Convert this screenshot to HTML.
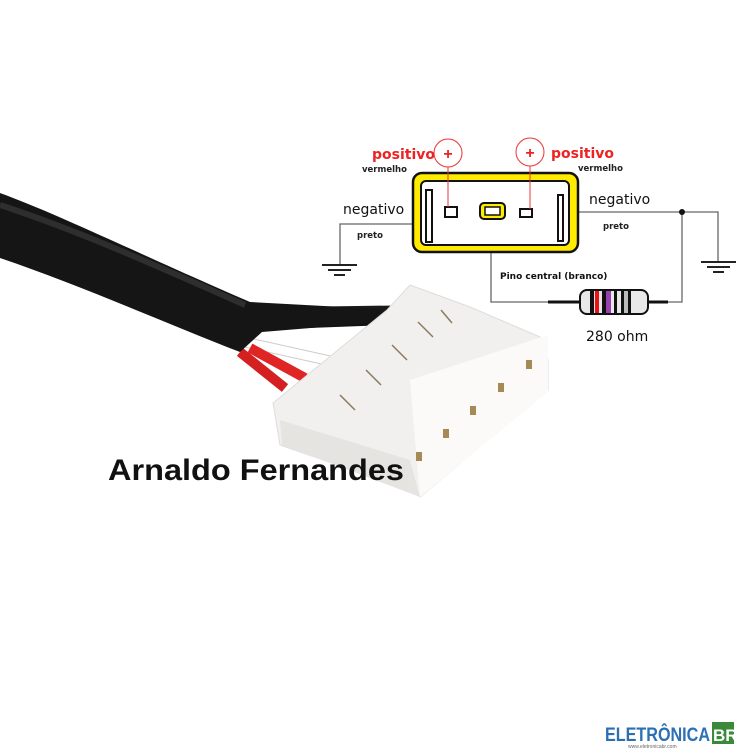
<!DOCTYPE html>
<html><head><style>
body{margin:0;background:#fff;}
svg{display:block;font-family:"Liberation Sans",sans-serif;}
</style></head><body>
<svg width="750" height="750" viewBox="0 0 750 750" xmlns="http://www.w3.org/2000/svg">
<rect width="750" height="750" fill="#fff"/>
<!-- wires -->
<line x1="245" y1="342" x2="335" y2="362" stroke="#fff" stroke-width="10"/>
<line x1="245" y1="337" x2="335" y2="357" stroke="#ccc" stroke-width="1"/>
<line x1="245" y1="347" x2="335" y2="367" stroke="#ccc" stroke-width="1"/>
<line x1="240" y1="352" x2="285" y2="388" stroke="#d42020" stroke-width="10"/>
<line x1="250" y1="348" x2="305" y2="378" stroke="#e02525" stroke-width="10"/>
<path d="M255,325 L390,320" stroke="#111" stroke-width="10" fill="none"/>
<path d="M250,312 L395,310" stroke="#1a1a1a" stroke-width="9" fill="none"/>
<!-- cable -->
<path d="M0,193 C60,215 130,250 250,302 L380,309 L384,322 L262,332 L240,352 C170,325 80,285 0,258 Z" fill="#151515"/>
<path d="M0,205 C70,228 140,258 245,305" stroke="#2e2e2e" stroke-width="6" fill="none"/>
<!-- connector -->
<path d="M273,403 L387,310 L410,285 L470,307 L540,337 L548,360 L548,390 L420,497 L410,490 L280,445 Z" fill="#f2f0ee" stroke="#ddd" stroke-width="1"/>
<path d="M410,380 L548,335 L548,392 L420,497 Z" fill="#fbfaf9"/>
<path d="M280,420 L410,460 L420,497 L282,445 Z" fill="#e6e4e1"/>
<g fill="#a58a55">
<rect x="416" y="452" width="6" height="9"/><rect x="443" y="429" width="6" height="9"/><rect x="470" y="406" width="6" height="9"/><rect x="498" y="383" width="6" height="9"/><rect x="526" y="360" width="6" height="9"/>
</g>
<g stroke="#8a7a60" stroke-width="1.5">
<line x1="340" y1="395" x2="355" y2="410"/><line x1="366" y1="370" x2="381" y2="385"/><line x1="392" y1="345" x2="407" y2="360"/><line x1="418" y1="322" x2="433" y2="337"/><line x1="441" y1="310" x2="452" y2="323"/>
</g>
<!-- diagram lines -->
<g stroke="#666" stroke-width="1.3" fill="none">
<polyline points="430,224 340,224 340,265"/>
<polyline points="564,212 718,212 718,262"/>
<polyline points="491,219 491,302 582,302"/>
<polyline points="648,302 682,302 682,212"/>
</g>
<circle cx="682" cy="212" r="3" fill="#111"/>
<g stroke="#222" stroke-width="2">
<line x1="322" y1="265" x2="357" y2="265"/><line x1="328" y1="270" x2="351" y2="270"/><line x1="334" y1="275" x2="345" y2="275"/>
<line x1="701" y1="262" x2="736" y2="262"/><line x1="707" y1="267" x2="730" y2="267"/><line x1="713" y1="272" x2="724" y2="272"/>
</g>
<!-- box -->
<rect x="413" y="173" width="165" height="79" rx="9" fill="#ffeb00" stroke="#111" stroke-width="2.5"/>
<rect x="421" y="181" width="148" height="64" rx="5" fill="#fff" stroke="#111" stroke-width="2"/>
<rect x="426" y="190" width="6" height="52" fill="#fff" stroke="#111" stroke-width="2"/>
<rect x="558" y="195" width="5" height="46" fill="#fff" stroke="#111" stroke-width="2"/>
<rect x="445" y="207" width="12" height="10" fill="#fff" stroke="#111" stroke-width="2"/>
<rect x="480" y="203" width="25" height="16" rx="4" fill="#ffeb00" stroke="#111" stroke-width="2"/>
<rect x="485" y="207" width="15" height="8" fill="#fff" stroke="#111" stroke-width="1.5"/>
<rect x="520" y="209" width="12" height="8" fill="#fff" stroke="#111" stroke-width="2"/>
<!-- red circles -->
<g stroke="#e33" stroke-width="1" fill="none">
<circle cx="448" cy="153" r="14"/><circle cx="530" cy="152" r="14"/>
<line x1="448" y1="167" x2="448" y2="207"/><line x1="530" y1="166" x2="530" y2="209"/>
</g>
<text x="448" y="159" fill="#e22" font-size="16" font-weight="bold" text-anchor="middle">+</text>
<text x="530" y="158" fill="#e22" font-size="16" font-weight="bold" text-anchor="middle">+</text>
<!-- resistor -->
<line x1="548" y1="302" x2="585" y2="302" stroke="#111" stroke-width="3"/>
<line x1="646" y1="302" x2="668" y2="302" stroke="#111" stroke-width="3"/>
<rect x="580" y="290" width="68" height="24" rx="7" fill="#e8e8e8" stroke="#111" stroke-width="2"/>
<rect x="590" y="291" width="4" height="22" fill="#111"/>
<rect x="595" y="291" width="4" height="22" fill="#e11"/>
<rect x="602" y="291" width="4" height="22" fill="#111"/>
<rect x="606" y="291" width="5" height="22" fill="#9a3fb0"/>
<rect x="614" y="291" width="3" height="22" fill="#111"/>
<rect x="621" y="291" width="3" height="22" fill="#111"/>
<rect x="624" y="291" width="4" height="22" fill="#bbb"/>
<rect x="628" y="291" width="3" height="22" fill="#111"/>
<!-- labels -->
<g font-family="'DejaVu Sans','Liberation Sans',sans-serif">
<text x="372" y="159" fill="#e22" font-size="14" font-weight="bold">positivo</text>
<text x="551" y="158" fill="#e22" font-size="14" font-weight="bold">positivo</text>
<text x="362" y="172" fill="#222" font-size="8.5" font-weight="bold">vermelho</text>
<text x="578" y="171" fill="#222" font-size="8.5" font-weight="bold">vermelho</text>
<text x="343" y="214" fill="#111" font-size="14">negativo</text>
<text x="589" y="204" fill="#111" font-size="14">negativo</text>
<text x="357" y="238" fill="#222" font-size="8.5" font-weight="bold">preto</text>
<text x="603" y="229" fill="#222" font-size="8.5" font-weight="bold">preto</text>
<text x="500" y="279" fill="#111" font-size="9" font-weight="bold">Pino central (branco)</text>
<text x="586" y="341" fill="#111" font-size="14">280 ohm</text>
</g>
<text x="108" y="480" fill="#111" font-size="30" font-weight="bold" textLength="296" lengthAdjust="spacingAndGlyphs">Arnaldo Fernandes</text>
<!-- logo -->
<text x="605" y="741" fill="#2b6fb5" font-size="19" font-weight="bold" textLength="105" lengthAdjust="spacingAndGlyphs">ELETRÔNICA</text>
<rect x="712" y="722" width="22" height="22" fill="#3a8a3a"/>
<text x="713" y="741" fill="#fff" font-size="17" font-weight="bold">BR</text>
<text x="628" y="748" fill="#666" font-size="5">www.eletronicabr.com</text>
</svg>
</body></html>
